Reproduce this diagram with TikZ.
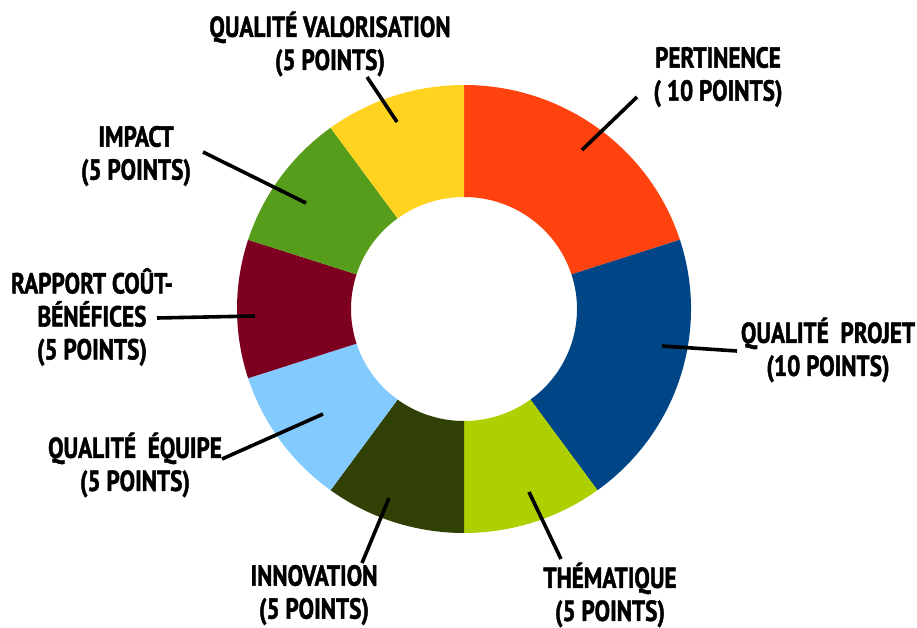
\documentclass[tikz,border=0pt]{standalone}
\usepackage{fontspec}
\newfontfamily\lblfont{PT Sans Bold}[FakeStretch=0.8,FakeBold=1.5]
\definecolor{cPert}{HTML}{FF420E}
\definecolor{cProj}{HTML}{004586}
\definecolor{cThem}{HTML}{AECF00}
\definecolor{cInno}{HTML}{314004}
\definecolor{cEqui}{HTML}{83CAFF}
\definecolor{cRapp}{HTML}{7E0021}
\definecolor{cImpa}{HTML}{579D1C}
\definecolor{cValo}{HTML}{FFD320}
\newcommand{\ringseg}[3]{%
  \fill[#1] (-#2:227 and 224) arc[start angle=-#2, end angle=-#3, x radius=227, y radius=224]
    -- (-#3:113 and 112) arc[start angle=-#3, end angle=-#2, x radius=113, y radius=112] -- cycle;}
\tikzset{
  lbl/.style={align=center, font=\lblfont\fontsize{29}{33}\selectfont, inner sep=0pt},
  leader/.style={line width=3.6pt, black}
}
\begin{document}
\begin{tikzpicture}[x=1pt,y=-1pt]
\useasboundingbox (0,0) rectangle (917,628);
\fill[white] (0,0) rectangle (917,628);
\begin{scope}[shift={(464,309)}]
\ringseg{cPert}{18}{90}
\ringseg{cProj}{-54}{18}
\ringseg{cThem}{-90}{-54}
\ringseg{cInno}{-126}{-90}
\ringseg{cEqui}{-162}{-126}
\ringseg{cRapp}{-198}{-162}
\ringseg{cImpa}{-234}{-198}
\ringseg{cValo}{-270}{-234}
\end{scope}
\node[lbl] (valo) at (330,44) {QUALITÉ VALORISATION\\(5 POINTS)};
\node[lbl] (pert) at (718,77) {PERTINENCE\\( 10 POINTS)};
\node[lbl] (impa) at (136,156) {IMPACT\\(5 POINTS)};
\node[lbl] (rapp) at (92,317) {RAPPORT COÛT-\\BÉNÉFICES\\(5 POINTS)};
\node[lbl] (equi) at (135,465) {QUALITÉ\ \ ÉQUIPE\\(5 POINTS)};
\node[lbl] (proj) at (828,350) {QUALITÉ\ \ PROJET\\(10 POINTS)};
\node[lbl] (them) at (610,595) {THÉMATIQUE\\(5 POINTS)};
\node[lbl] (inno) at (314,595) {INNOVATION\\(5 POINTS)};
\coordinate (valoA) at (367,77);  \coordinate (valoB) at (397,122);
\coordinate (pertA) at (637,97);  \coordinate (pertB) at (582,150);
\coordinate (impaA) at (203,152); \coordinate (impaB) at (306,203);
\coordinate (rappA) at (157,318); \coordinate (rappB) at (255,316);
\coordinate (equiA) at (222,459); \coordinate (equiB) at (323,414);
\coordinate (projA) at (737,351); \coordinate (projB) at (662,346);
\coordinate (themA) at (561,559); \coordinate (themB) at (529,492);
\coordinate (innoA) at (362,563); \coordinate (innoB) at (389,498);
\draw[leader] (valoA) -- (valoB);
\draw[leader] (pertA) -- (pertB);
\draw[leader] (impaA) -- (impaB);
\draw[leader] (rappA) -- (rappB);
\draw[leader] (equiA) -- (equiB);
\draw[leader] (projA) -- (projB);
\draw[leader] (themA) -- (themB);
\draw[leader] (innoA) -- (innoB);
\end{tikzpicture}
\end{document}
